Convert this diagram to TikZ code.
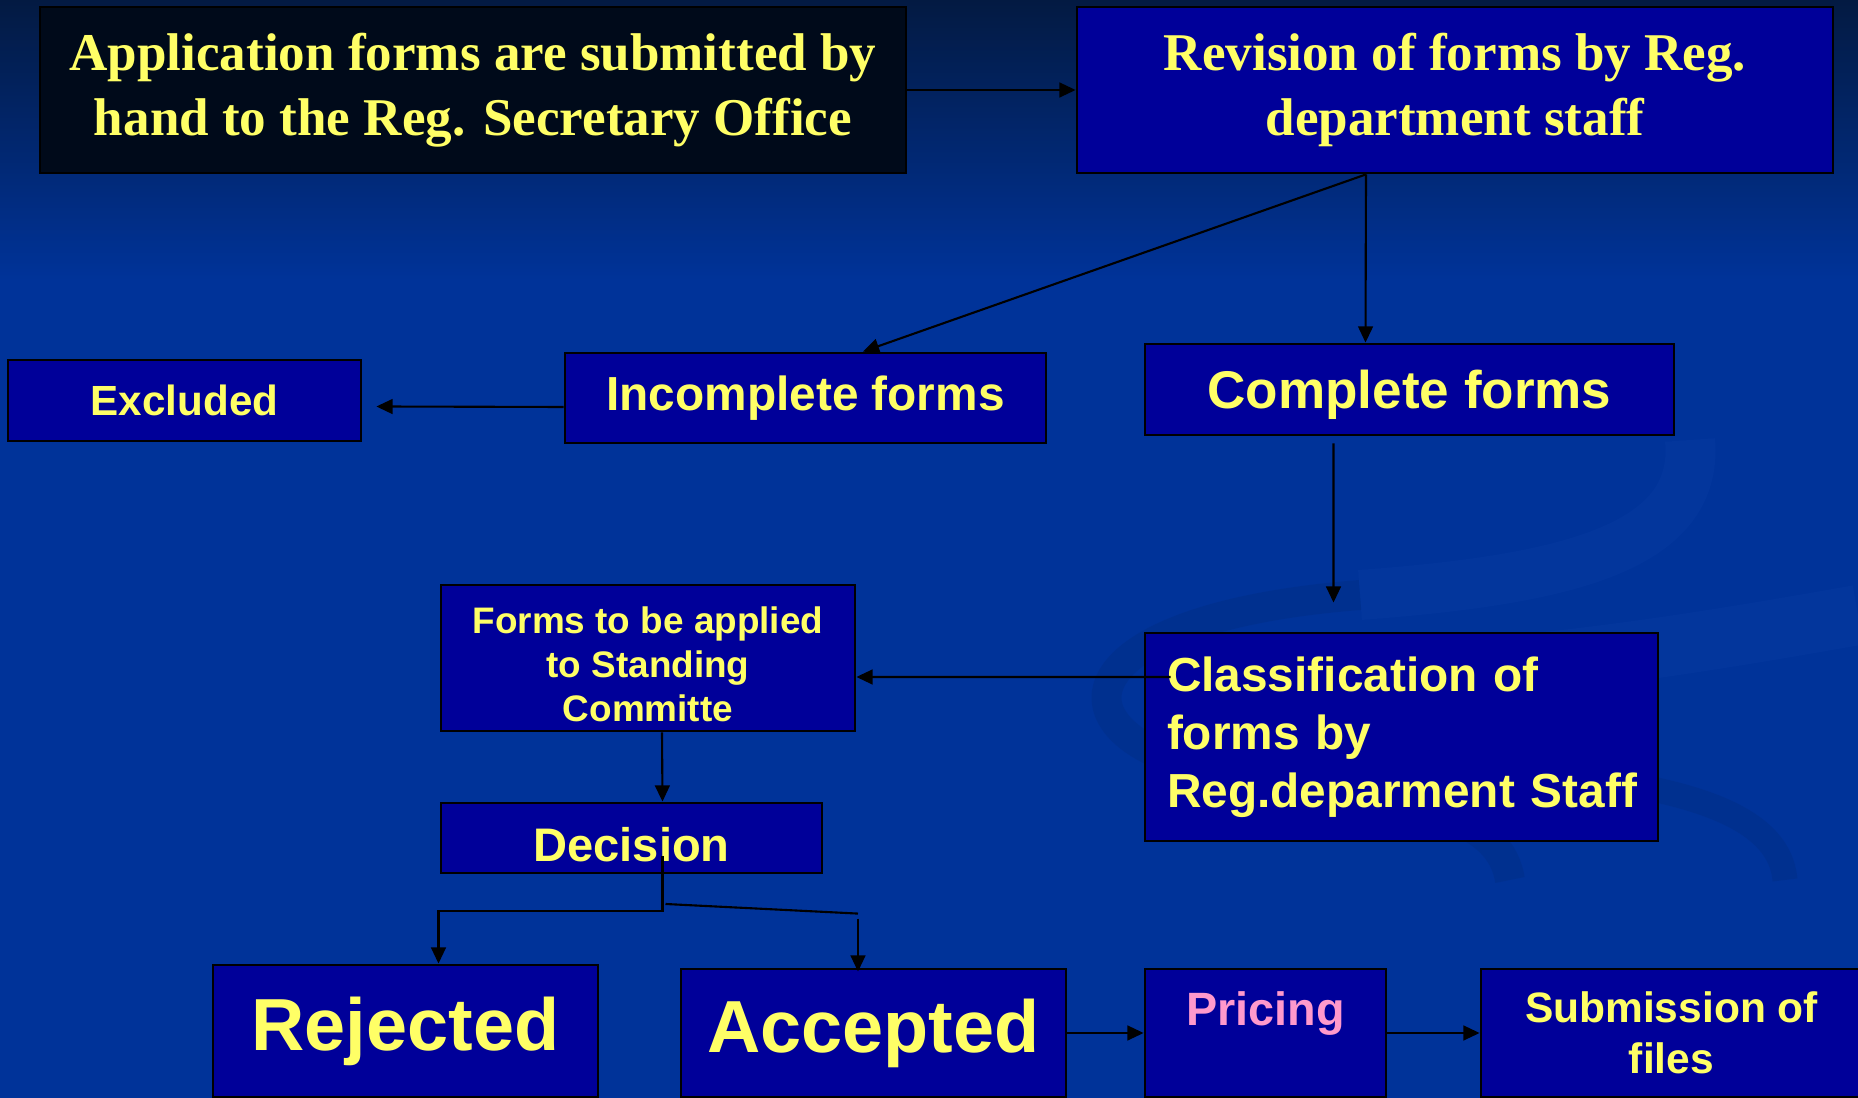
\documentclass[tikz,border=0pt]{standalone}
\usepackage{fontspec}
\setmainfont{Liberation Serif}
\setsansfont{Liberation Sans}
\usetikzlibrary{arrows.meta}

\definecolor{bgblue}{HTML}{003399}
\definecolor{bgtop}{HTML}{031A42}
\definecolor{boxblue}{HTML}{000099}
\definecolor{boxdark}{HTML}{000A1A}
\definecolor{txtyellow}{HTML}{FFFF66}
\definecolor{txtpink}{HTML}{FF99CC}
\definecolor{swooshdark}{HTML}{002E85}
\definecolor{swooshlight}{HTML}{0A3DA6}

\tikzset{
  box/.style={draw=black, line width=0.8pt, fill=boxblue, text=txtyellow, inner sep=0pt, align=center},
  arr/.style={line width=0.6pt, -{Triangle[length=4.6pt,width=4.2pt]}},
  link/.style={line width=0.6pt},
}

\begin{document}
\begin{tikzpicture}
\useasboundingbox (0,0) rectangle (18.58,-10.98);
% background
\shade[top color=bgtop, bottom color=bgblue] (0,0) rectangle (18.58,-2.8);
\fill[bgblue] (0,-2.8) rectangle (18.58,-10.98);
\draw[swooshlight, line width=0.5cm, opacity=0.3] (16.9,-4.4) .. controls (17.0,-5.5) and (15.6,-5.8) .. (13.6,-5.95);
\draw[swooshlight, line width=0.6cm, opacity=0.3] (18.58,-6.15) .. controls (16.6,-6.5) and (14.2,-6.9) .. (11.8,-6.7);
\draw[swooshdark, line width=0.3cm, opacity=0.45] (13.6,-5.95) .. controls (10.4,-6.2) and (10.5,-7.5) .. (12.4,-7.75) .. controls (14.3,-8.0) and (15.0,-8.2) .. (15.1,-8.8);
\draw[swooshdark, line width=0.25cm, opacity=0.45] (15.6,-7.75) .. controls (17.0,-7.9) and (17.8,-8.2) .. (17.85,-8.8);

% top row
\node[box, fill=boxdark, font=\rmfamily\bfseries\fontsize{15.1}{18.5}\selectfont,
  minimum width=8.66cm, minimum height=1.66cm] (app) at (4.73,-0.90)
  {Application forms are submitted by\\hand to the Reg. Secretary Office};
\node[box, font=\rmfamily\bfseries\fontsize{15.1}{18.5}\selectfont,
  minimum width=7.56cm, minimum height=1.66cm] (rev) at (14.55,-0.90)
  {Revision of forms by Reg.\\department staff};

% second row
\node[box, font=\sffamily\bfseries\fontsize{12}{14.4}\selectfont,
  minimum width=3.53cm, minimum height=0.81cm] (excl) at (1.845,-4.005) {Excluded};
\node[box, font=\sffamily\bfseries\fontsize{13.6}{16.3}\selectfont,
  minimum width=4.81cm, minimum height=0.90cm] (inc) at (8.055,-3.98) {Incomplete forms};
\node[box, font=\sffamily\bfseries\fontsize{15.1}{18.1}\selectfont, text depth=0.01cm,
  minimum width=5.29cm, minimum height=0.91cm] (comp) at (14.095,-3.895) {Complete forms};

% middle
\node[box, font=\sffamily\bfseries\fontsize{13.6}{16.5}\selectfont, align=left,
  text width=4.69cm, minimum width=5.13cm, minimum height=2.08cm] (class) at (14.015,-7.37)
  {Classification of\\forms by\\Reg.deparment~Staff};
\node[box, font=\sffamily\bfseries\fontsize{10.5}{12.6}\selectfont,
  minimum width=4.14cm, minimum height=1.46cm] (forms) at (6.48,-6.58)
  {\rule{0pt}{0.39cm}Forms to be applied\\to Standing\\Committe};
\node[box, font=\sffamily\bfseries\fontsize{13.4}{16}\selectfont, text height=0.465cm,
  minimum width=3.81cm, minimum height=0.70cm] (dec) at (6.315,-8.38) {Decision};

% bottom row
\node[box, font=\sffamily\bfseries\fontsize{21}{25}\selectfont,
  minimum width=3.85cm, minimum height=1.32cm] (rej) at (4.055,-10.31) {Rejected};
\node[box, font=\sffamily\bfseries\fontsize{21}{25}\selectfont,
  minimum width=3.85cm, minimum height=1.28cm] (acc) at (8.735,-10.33) {Accepted};
\node[box, text=txtpink, font=\sffamily\bfseries\fontsize{13.3}{16}\selectfont,
  minimum width=2.41cm, minimum height=1.28cm] (pri) at (12.655,-10.33) {Pricing\\[-0.24cm]\strut};
\node[box, font=\sffamily\bfseries\fontsize{12.1}{14.5}\selectfont,
  minimum width=3.81cm, minimum height=1.28cm] (sub) at (16.715,-10.33) {Submission of\\files};

% connectors
\draw[arr] (app.east) -- (rev.west);
\draw[arr] ([xshift=-0.89cm]rev.south) -- ([xshift=0.575cm]inc.north);
\draw[arr] ([xshift=-0.89cm]rev.south) -- ([xshift=-0.44cm]comp.north);
\draw[arr] ([yshift=-0.09cm]inc.west) -- ([xshift=0.14cm,yshift=-0.06cm]excl.east);
\draw[arr] ([xshift=-0.76cm,yshift=-0.07cm]comp.south) -- ([xshift=-0.68cm,yshift=0.29cm]class.north);
\draw[arr] ([xshift=0.27cm,yshift=0.6cm]class.west) -- ([yshift=-0.19cm]forms.east);
\draw[arr] ([xshift=0.14cm]forms.south) -- ([xshift=0.31cm]dec.north);
\draw[arr] ([xshift=0.31cm,yshift=-0.18cm]dec.center) -- ++(0,-0.55) -| ([xshift=0.33cm]rej.north);
\draw[link] ([xshift=0.34cm,yshift=-0.66cm]dec.center) -- ([xshift=-0.155cm,yshift=0.54cm]acc.north);
\draw[arr] ([xshift=-0.155cm,yshift=0.49cm]acc.north) -- ([xshift=-0.155cm,yshift=-0.04cm]acc.north);
\draw[arr] (acc.east) -- (pri.west);
\draw[arr] (pri.east) -- (sub.west);
\end{tikzpicture}
\end{document}
